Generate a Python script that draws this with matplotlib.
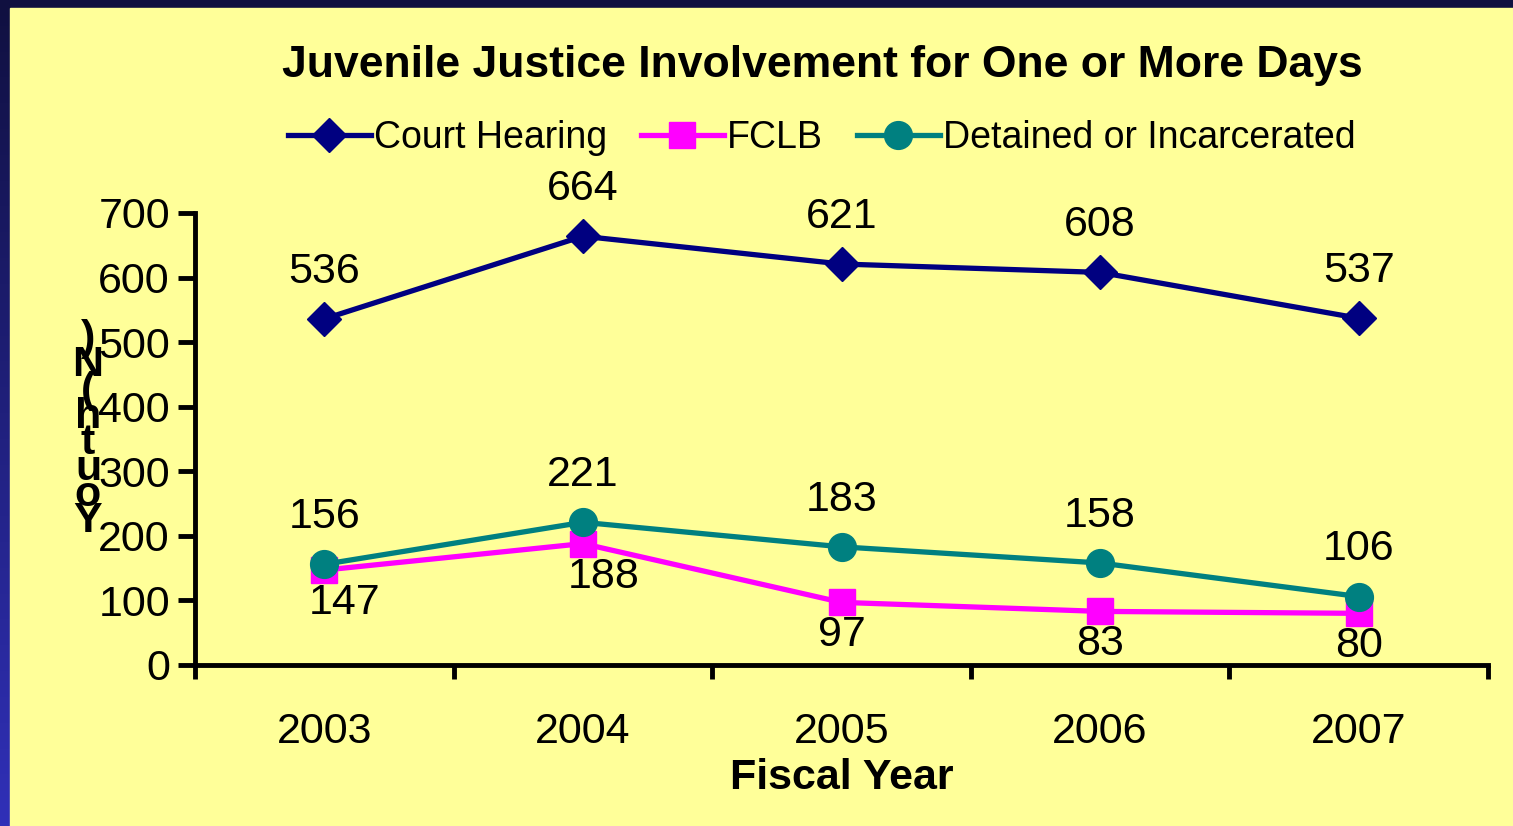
import numpy as np
import matplotlib.pyplot as plt
from matplotlib.patches import Rectangle

plt.rcParams['font.family'] = ['Liberation Sans', 'DejaVu Sans']

years = ['2003', '2004', '2005', '2006', '2007']
court = [536, 664, 621, 608, 537]
fclb = [147, 188, 97, 83, 80]
detained = [156, 221, 183, 158, 106]

W, H = 1513, 826
fig = plt.figure(figsize=(W / 100, H / 100), dpi=100)

# background: navy gradient frame + yellow panel
bg = fig.add_axes([0, 0, 1, 1])
bg.set_axis_off()
grad = np.linspace(0, 1, 256).reshape(-1, 1)
top = np.array([0x10, 0x10, 0x40]) / 255
bot = np.array([0x30, 0x30, 0xb8]) / 255
img = top + grad[:, :, None] * (bot - top)
bg.imshow(img, aspect='auto', extent=[0, 1, 0, 1], origin='upper')
bg.add_patch(Rectangle((10 / W, 0), 1, 1 - 8 / H, color='#ffff99', zorder=2))
bg.set_xlim(0, 1)
bg.set_ylim(0, 1)

ax = fig.add_axes([195 / W, 1 - 665 / H, (1488 - 195) / W, (665 - 213) / H])
ax.set_facecolor('none')
x = np.arange(len(years))

ax.plot(x, court, color='#000080', lw=3.8, marker='D', ms=17, label='Court Hearing', zorder=3)
ax.plot(x, fclb, color='#ff00ff', lw=3.8, marker='s', ms=19, label='FCLB', zorder=3)
ax.plot(x, detained, color='#008080', lw=3.8, marker='o', ms=20, label='Detained or Incarcerated', zorder=4)

for xi, v in zip(x, court):
    ax.text(xi, v + 42, str(v), ha='center', va='bottom', fontsize=31)
for xi, v in zip(x, detained):
    ax.text(xi, v + 42, str(v), ha='center', va='bottom', fontsize=31)
for xi, v in zip(x, fclb):
    off = 0.08 if xi < 2 else 0
    ax.text(xi + off, v - 20, str(v), ha='center', va='top', fontsize=31)

ax.set_xlim(-0.5, 4.5)
ax.set_ylim(0, 700)
ax.set_yticks(range(0, 701, 100))
ax.set_xticks(x)
ax.set_xticklabels(years)
ax.set_xticks(np.arange(-0.5, 4.6, 1), minor=True)
ax.tick_params(axis='x', which='major', length=0, labelsize=31, pad=34)
ax.tick_params(axis='x', which='minor', length=10, width=3.5, direction='out')
ax.tick_params(axis='y', length=12, width=3.5, labelsize=31, pad=6)
for s in ['top', 'right']:
    ax.spines[s].set_visible(False)
for s in ['left', 'bottom']:
    ax.spines[s].set_linewidth(3.5)

ax.set_xlabel('Fiscal Year', fontsize=31, fontweight='bold', labelpad=4)

# vertical stacked y label
fig.text(88 / W, 1 - 430 / H, ')\nN\n(\nh\nt\nu\no\nY', ha='center', va='center',
         fontsize=31, fontweight='bold', linespacing=0.55)

fig.text(822 / W, 1 - 65 / H, 'Juvenile Justice Involvement for One or More Days',
         ha='center', va='center', fontsize=32, fontweight='bold')

fig.legend(loc='center', bbox_to_anchor=(822 / W, 1 - 138 / H), ncol=3, frameon=False,
           fontsize=27, handlelength=2.2, handletextpad=0.1, columnspacing=0.9)

fig.savefig('out.png', dpi=100)
